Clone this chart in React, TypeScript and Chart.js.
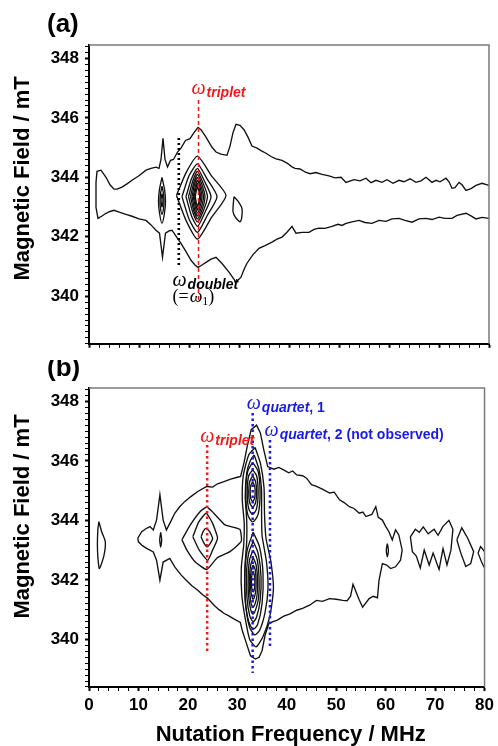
import React, { useEffect, useRef } from 'react';
import { Chart, registerables } from 'chart.js';

Chart.register(...registerables);

type P = [number, number];

// ---------- axes ----------
const X_MIN = 0;
const X_MAX = 80;
const Y_MIN = 338.4;
const Y_MAX = 348.45;
const X_STEP = 2;
const Y_STEP = 0.2;
const X_LABEL_EVERY = 10;
const Y_LABEL_EVERY = 2;
const X_TITLE = 'Nutation Frequency / MHz';
const Y_TITLE = 'Magnetic Field / mT';

// ---------- panel (a) contours (MHz, mT) ----------
const aOuter: P[] = [
  [80, 343.73], [78.6, 343.8], [77.4, 343.73], [76.4, 343.62], [75.4, 343.56], [74.6, 343.75], [74, 343.83], [73.2, 343.65],
  [72.6, 343.63], [72, 343.85], [71.4, 343.97], [70.2, 343.85], [69.4, 343.9], [68.6, 343.83], [67.4, 344.0], [66.4, 343.88],
  [65.4, 343.83], [64.2, 343.95], [63, 343.85], [62, 343.9], [60.8, 343.8], [59.6, 343.92], [58.6, 343.83], [57.4, 343.9],
  [56.4, 343.82], [55.4, 343.97], [54.2, 343.88], [53, 343.92], [51.4, 343.83], [50.4, 344.0], [49.2, 343.98], [48, 344.05],
  [46.6, 344.1], [45.4, 344.16], [44.2, 344.12], [43.3, 344.17], [42.2, 344.28], [41.2, 344.3], [40.6, 344.35], [39.6, 344.48],
  [38.6, 344.57], [37.4, 344.62], [36.4, 344.7], [35.4, 344.81], [34.4, 344.9], [33.6, 344.98], [32.6, 345.05], [31.8, 345.35],
  [31.0, 345.6], [30.2, 345.75], [29.4, 345.78], [28.8, 345.5], [28.2, 345.05], [27.6, 344.74], [26.4, 344.78], [25.4, 344.85],
  [24.6, 345.01], [23.4, 345.35], [22.4, 345.6], [21.8, 345.68], [21.0, 345.5], [20.2, 345.3], [19.3, 345.24], [18.4, 344.98],
  [17.7, 344.85], [16.9, 344.6], [16.3, 344.57], [15.7, 344.35], [15.2, 344.6], [14.8, 345.31], [14.4, 344.6], [14, 344.3],
  [13.4, 344.34], [12.4, 344.3], [11.4, 344.24], [10, 344.05], [8.6, 343.9], [7.6, 343.78], [6.6, 343.67], [5.6, 343.6],
  [5, 343.6], [4.2, 343.75], [3.4, 344.0], [2.4, 344.24], [1.6, 344.2], [1.4, 343.83], [1.4, 343.3], [1.4, 342.99],
  [1.8, 342.62], [2.6, 342.7], [3.4, 342.79], [4.2, 342.85], [5, 342.89], [6.2, 342.82], [7.4, 342.75], [8.6, 342.69],
  [10, 342.6], [11.4, 342.55], [12.4, 342.4], [13.4, 342.22], [14.1, 342.12], [14.7, 341.31], [15.3, 342.12], [16, 342.2],
  [16.6, 342.22], [17.5, 342.0], [18.4, 341.78], [19.4, 341.5], [20.4, 341.21], [21.2, 341.05], [21.8, 340.97], [22.6, 341.05],
  [23.4, 341.14], [24.4, 341.25], [25.4, 341.31], [26.6, 341.1], [28, 340.81], [28.8, 340.62], [29.4, 340.47], [30.4, 340.64],
  [31.0, 340.9], [31.6, 341.11], [32.8, 341.4], [34, 341.61], [35.2, 341.7], [36.6, 341.82], [37.6, 341.92], [38.6, 341.99],
  [39.6, 342.15], [40.6, 342.35], [41.4, 342.12], [42.6, 342.15], [44, 342.15], [45, 342.25], [46, 342.29], [47.2, 342.28],
  [48.6, 342.35], [49.8, 342.42], [50.6, 342.38], [51.4, 342.45], [52.6, 342.5], [54, 342.55], [55.2, 342.48], [56.6, 342.45],
  [58, 342.55], [59.4, 342.52], [60.6, 342.6], [62, 342.62], [63.2, 342.55], [64.6, 342.49], [66, 342.6], [67.4, 342.62],
  [68.6, 342.58], [70, 342.66], [71.2, 342.62], [72.6, 342.62], [73.6, 342.72], [75.4, 342.79], [76.4, 342.7], [77.4, 342.6],
  [78.6, 342.65], [80, 342.62],
];
const aLens1: P[] = [[14.6, 344.0], [15.1, 343.6], [15.3, 343.2], [15.1, 342.8], [14.6, 342.45], [14.1, 342.8], [13.9, 343.2], [14.1, 343.6]];
const aLens2: P[] = [[14.6, 343.7], [14.9, 343.45], [15.0, 343.2], [14.9, 342.95], [14.6, 342.75], [14.3, 342.95], [14.2, 343.2], [14.3, 343.45]];
const aLens3: P[] = [[14.6, 343.45], [14.8, 343.25], [14.6, 343.0], [14.4, 343.25]];
const aBlob: P[] = [[29.0, 343.35], [29.8, 343.2], [30.6, 342.95], [30.5, 342.6], [30.2, 342.5], [29.3, 342.65], [28.8, 342.85], [28.9, 343.2]];
const aDiamond1: P[] = [[17.5, 343.39], [19.4, 344.15], [21.7, 344.71], [24.5, 344.05], [27.4, 343.39], [24.5, 342.65], [21.7, 341.92], [19.4, 342.55]];
const aDiamond2: P[] = [[18.6, 343.35], [20.0, 344.05], [21.7, 344.45], [23.6, 343.95], [25.6, 343.35], [23.6, 342.7], [21.7, 342.15], [20.0, 342.6]];
const aDiamond3: P[] = [[19.4, 343.35], [20.5, 343.95], [21.7, 344.3], [23.0, 343.9], [24.4, 343.35], [23.0, 342.75], [21.7, 342.35], [20.5, 342.7]];
const aDiamond4: P[] = [[19.9, 343.35], [20.8, 343.9], [21.7, 344.2], [22.7, 343.85], [23.7, 343.35], [22.7, 342.8], [21.7, 342.5], [20.8, 342.8]];
const aDiamond5: P[] = [[20.3, 343.35], [21.0, 343.85], [21.7, 344.1], [22.5, 343.8], [23.2, 343.35], [22.5, 342.85], [21.7, 342.6], [21.0, 342.85]];
const aDiamond6: P[] = [[20.6, 343.35], [21.15, 343.8], [21.7, 344.0], [22.3, 343.75], [22.9, 343.35], [22.3, 342.9], [21.7, 342.7], [21.15, 342.9]];
const aDiamond7: P[] = [[20.85, 343.35], [21.3, 343.72], [21.7, 343.9], [22.15, 343.7], [22.6, 343.35], [22.15, 342.98], [21.7, 342.8], [21.3, 342.98]];
const aDiamond8: P[] = [[21.05, 343.35], [21.4, 343.65], [21.7, 343.8], [22.0, 343.63], [22.35, 343.35], [22.0, 343.05], [21.7, 342.9], [21.4, 343.05]];
const aDiamond9: P[] = [[21.25, 343.35], [21.5, 343.58], [21.7, 343.7], [21.9, 343.57], [22.15, 343.35], [21.9, 343.12], [21.7, 343.0], [21.5, 343.12]];

// ---------- panel (a) guide lines ----------
const aTripletLine: P[] = [[21.9, 346.6], [21.9, 339.88]];
const aDoubletLine: P[] = [[17.96, 345.32], [17.96, 340.95]];

// ---------- panel (b) contours ----------
const bOuter: P[] = [
  [9.86, 343.4], [10.66, 343.62], [11.5, 343.72], [12.34, 343.79], [13, 343.68], [13.66, 344.01], [14.34, 344.86], [15, 344.01],
  [15.66, 343.68], [16.5, 343.95], [17.34, 344.24], [18.3, 344.45], [19.34, 344.63], [20.6, 344.8], [22, 344.97], [23.8, 345.14],
  [25, 345.12], [26, 345.23], [27.3, 345.3], [28.66, 345.39], [30.0, 345.45], [30.66, 345.48], [31.34, 345.93], [32, 346.49],
  [32.8, 347.05], [33.9, 347.2], [34.66, 346.94], [35.34, 346.38], [36.14, 345.81], [37.4, 345.72], [38.4, 345.78], [39.34, 345.7],
  [40.4, 345.6], [41.2, 345.66], [42, 345.53], [43.2, 345.5], [44, 345.42], [45, 345.2], [46, 345.14], [47.2, 345.05],
  [48.66, 344.92], [49.6, 344.95], [50.66, 344.69], [51.6, 344.6], [52.66, 344.46], [53.6, 344.4], [54.66, 344.24], [55.4, 344.28],
  [56, 344.13], [57.2, 344.2], [58, 344.46], [58.5, 344.1], [59.34, 344.01], [60.0, 343.8], [60.66, 343.62], [61.34, 343.34],
  [62, 343.68], [62.66, 343.51], [63.34, 343.0], [63, 342.66], [62, 342.44], [61, 342.38], [60.2, 342.5], [59.34, 342.55],
  [58.66, 341.99], [58.34, 341.4], [57.5, 341.45], [56.66, 341.37], [55.34, 341.08], [54.6, 341.35], [54, 341.6], [53.4, 341.85],
  [52.9, 341.45], [52.2, 341.3], [51.34, 341.31], [50, 341.35], [48.66, 341.37], [47.2, 341.28], [46, 341.31], [44.6, 341.15],
  [43.2, 341.04], [42, 340.98], [40.66, 340.86], [39.4, 340.78], [38, 340.64], [37.2, 340.6], [36.34, 340.52], [35.6, 340.13],
  [35, 339.62], [34.4, 339.4], [33.66, 339.34], [32.66, 339.45], [31.66, 339.96], [31, 340.3], [30.6, 340.57], [29.2, 340.7],
  [28.2, 340.8], [27.34, 340.87], [26.3, 341.0], [25.34, 341.14], [24, 341.38], [23, 341.5], [22, 341.65], [20.8, 341.8],
  [19.66, 341.99], [18.66, 342.16], [17.34, 342.44], [16.34, 342.72], [15, 342.6], [14.34, 341.99], [13.66, 342.66], [13, 342.94],
  [11.66, 343.06], [10.8, 343.15], [10, 343.28],
];
const bLeftLens: P[] = [[2.0, 343.96], [2.6, 343.6], [3.3, 343.28], [3.0, 342.8], [2.1, 342.38], [1.8, 342.75], [1.7, 343.2], [1.8, 343.7]];
const bSmallLens: P[] = [[14.5, 343.6], [14.7, 343.35], [14.5, 343.1], [14.3, 343.35]];
const bDot: P[] = [[60.34, 343.22], [60.55, 343.0], [60.34, 342.78], [60.13, 343.0]];
const bTriplet0: P[] = [[18.8, 343.35], [20.5, 343.85], [22.5, 344.3], [23.8, 344.45], [25.2, 344.25], [27.5, 343.85], [30.5, 343.7], [30.8, 343.3], [28.5, 342.95], [26, 342.75], [23.8, 342.35], [21.5, 342.6], [19.8, 343.0]];
const bTriplet1: P[] = [[21, 343.45], [22.2, 343.95], [23.7, 344.24], [25, 343.9], [26, 343.4], [25, 343.0], [24, 342.66], [22.3, 343.0]];
const bTriplet2: P[] = [[22.66, 343.45], [23.1, 343.63], [23.66, 343.73], [24.4, 343.62], [25, 343.4], [24.5, 343.22], [23.86, 343.11], [23.2, 343.25]];
const bColumn1: P[] = [[33.6, 346.45], [34.7, 345.9], [35.4, 345.1], [35.5, 344.2], [35.8, 343.4], [36.8, 342.6], [37.3, 341.7], [36.6, 340.8], [35.2, 340.1], [33.8, 339.75], [32.5, 340.0], [31.6, 340.7], [30.9, 341.5], [30.8, 342.4], [31.3, 343.2], [31.4, 343.9], [31.0, 344.7], [31.2, 345.5], [32.3, 346.2]];
const bColumn2: P[] = [[33.4, 346.2], [34.4, 345.7], [34.9, 345.0], [34.9, 344.3], [35.0, 343.5], [35.9, 342.6], [36.2, 341.7], [35.6, 340.9], [34.5, 340.3], [33.5, 340.15], [32.5, 340.4], [31.8, 341.0], [31.5, 341.8], [31.6, 342.6], [31.9, 343.3], [31.9, 344.0], [31.6, 344.8], [31.9, 345.6], [32.6, 346.0]];
const bUpper1: P[] = [[33.1, 345.95], [34.2, 345.65], [34.6, 344.95], [34.2, 344.2], [33.1, 343.95], [32.1, 344.2], [31.7, 344.95], [32.1, 345.65]];
const bUpper2: P[] = [[33.1, 345.7], [33.9, 345.5], [34.2, 344.95], [33.9, 344.4], [33.1, 344.2], [32.3, 344.4], [32.0, 344.95], [32.3, 345.5]];
const bUpper3: P[] = [[33.1, 345.5], [33.7, 345.3], [33.9, 344.95], [33.7, 344.6], [33.1, 344.45], [32.5, 344.6], [32.3, 344.95], [32.5, 345.3]];
const bUpper4: P[] = [[33.1, 345.3], [33.5, 345.15], [33.6, 344.95], [33.5, 344.75], [33.1, 344.65], [32.7, 344.75], [32.6, 344.95], [32.7, 345.15]];
const bLower1: P[] = [[33.2, 343.6], [34.5, 343.1], [35.2, 342.2], [35.0, 341.2], [34.1, 340.5], [33.2, 340.35], [32.3, 340.6], [31.6, 341.3], [31.5, 342.2], [32.0, 343.0]];
const bLower2: P[] = [[33.2, 343.3], [34.2, 342.9], [34.8, 342.1], [34.6, 341.3], [33.9, 340.75], [33.2, 340.6], [32.5, 340.8], [31.95, 341.4], [31.85, 342.2], [32.3, 342.9]];
const bLower3: P[] = [[33.2, 343.0], [34.0, 342.7], [34.4, 342.05], [34.3, 341.4], [33.7, 341.0], [33.2, 340.85], [32.7, 341.0], [32.25, 341.5], [32.2, 342.15], [32.5, 342.7]];
const bLower4: P[] = [[33.2, 342.75], [33.8, 342.5], [34.1, 342.0], [34.0, 341.5], [33.6, 341.2], [33.2, 341.1], [32.8, 341.2], [32.5, 341.6], [32.45, 342.05], [32.7, 342.5]];
const bLower5: P[] = [[33.2, 342.5], [33.6, 342.35], [33.8, 341.95], [33.7, 341.6], [33.2, 341.35], [32.8, 341.55], [32.65, 341.95], [32.8, 342.3]];
const bLower6: P[] = [[33.2, 342.3], [33.45, 342.15], [33.55, 341.95], [33.45, 341.7], [33.2, 341.6], [32.95, 341.7], [32.85, 341.95], [32.95, 342.15]];
const bRight1: P[] = [[65, 343.45], [66, 343.7], [66.8, 343.6], [67.6, 343.78], [68.6, 343.55], [69.8, 343.7], [70.6, 343.5], [71.6, 343.8], [72.8, 344.0], [73.6, 343.7], [73.2, 343.0], [72.4, 342.5], [71.6, 343.05], [70.8, 342.35], [69.6, 342.9], [68.8, 342.5], [67.8, 343.0], [67, 342.4], [66.2, 342.8], [65.4, 342.95]];
const bRight2: P[] = [[74.4, 343.35], [75.4, 343.75], [76.6, 343.4], [77.8, 342.95], [77.2, 342.55], [76.2, 342.45], [75.2, 342.9]];
const bRight3: P[] = [[80, 342.95], [79.2, 343.12], [78.7, 342.9], [79.4, 342.6], [80, 342.4]];

// ---------- panel (b) guide lines ----------
const bTripletLine: P[] = [[23.9, 346.53], [23.9, 339.54]];
const bQuartet1Line: P[] = [[33.1, 347.61], [33.1, 338.87]];
const bQuartet2Line: P[] = [[36.6, 346.7], [36.6, 339.74]];

// ---------- label anchors (data units) ----------
const aTripletLabel: P = [20.5, 346.79];
const aDoubletLabel: P = [16.7, 340.34];
const aDoubletEqLabel: P = [16.7, 339.8];
const bTripletLabel: P = [22.5, 346.63];
const bQuartet1Label: P = [31.9, 347.74];
const bQuartet2Label: P = [35.5, 346.84];

const RED = '#f01818';
const BLUE = '#1a1ae8';
const SANS = "'Liberation Sans', Arial, Helvetica, sans-serif";
const SERIF = "'Liberation Serif', 'Times New Roman', serif";

const toXY = (pts: P[]) => pts.map(([x, y]) => ({ x, y }));

const contour = (pts: P[], closed: boolean, smooth = 0) => ({
  data: toXY(closed ? [...pts, pts[0]] : pts),
  borderColor: '#111',
  borderWidth: 1.35,
  pointRadius: 0,
  showLine: true,
  fill: false,
  tension: smooth,
});

const guide = (pts: P[], color: string, dash: number[], width: number) => ({
  data: toXY(pts),
  borderColor: color,
  borderWidth: width,
  borderDash: dash,
  pointRadius: 0,
  showLine: true,
  fill: false,
});

type Part = { text: string; font: string; color: string; dy?: number; gap?: number };

function drawRich(ctx: CanvasRenderingContext2D, x: number, y: number, parts: Part[]) {
  let cx = x;
  ctx.textAlign = 'left';
  ctx.textBaseline = 'alphabetic';
  for (const p of parts) {
    ctx.font = p.font;
    ctx.fillStyle = p.color;
    ctx.fillText(p.text, cx, y + (p.dy || 0));
    cx += ctx.measureText(p.text).width + (p.gap || 0);
  }
}

const isMajor = (v: number, every: number) => {
  const r = Math.round(v);
  return Math.abs(v - r) < 1e-6 && r % every === 0;
};

function makeOptions(opts: { topPad: number; xHeight: number; showXLabels: boolean }) {
  const tickFont = { family: SANS, size: 17, weight: 'bold' as const };
  return {
    responsive: false,
    animation: false as const,
    devicePixelRatio: 1,
    layout: { padding: { top: opts.topPad, left: 0, right: 9, bottom: 0 }, autoPadding: false },
    plugins: { legend: { display: false }, tooltip: { enabled: false } },
    events: [] as any[],
    scales: {
      x: {
        type: 'linear' as const,
        min: X_MIN,
        max: X_MAX,
        afterFit: (s: any) => {
          s.height = opts.xHeight;
        },
        border: { color: '#000', width: 2 },
        grid: {
          drawOnChartArea: false,
          drawTicks: true,
          tickLength: 4,
          tickColor: '#000',
          tickWidth: (c: any) => (c.tick && isMajor(c.tick.value, X_LABEL_EVERY) ? 2 : 1),
        },
        ticks: {
          stepSize: X_STEP,
          autoSkip: false,
          maxRotation: 0,
          includeBounds: false,
          padding: 4,
          color: '#000',
          font: tickFont,
          callback: (v: any) => (opts.showXLabels && isMajor(Number(v), X_LABEL_EVERY) ? String(Math.round(Number(v))) : ''),
        },
      },
      y: {
        type: 'linear' as const,
        min: Y_MIN,
        max: Y_MAX,
        afterFit: (s: any) => {
          s.width = 89;
        },
        border: { color: '#000', width: 2 },
        grid: {
          drawOnChartArea: false,
          drawTicks: true,
          tickLength: 4,
          tickColor: '#000',
          tickWidth: (c: any) => (c.tick && isMajor(c.tick.value, Y_LABEL_EVERY) ? 2 : 1),
        },
        ticks: {
          stepSize: Y_STEP,
          autoSkip: false,
          includeBounds: false,
          padding: 6,
          color: '#000',
          font: tickFont,
          callback: (v: any) => (isMajor(Number(v), Y_LABEL_EVERY) ? String(Math.round(Number(v))) : ''),
        },
      },
    },
  };
}

function framePlugin(panelLabel: string, labelBaseline: number, yTitleShift: number, showXTitle: boolean, xTitleBaseline: number, extra: (chart: any) => void) {
  return {
    id: 'frame' + panelLabel,
    afterDraw(chart: any) {
      const ctx = chart.ctx as CanvasRenderingContext2D;
      const a = chart.chartArea;
      ctx.save();
      ctx.strokeStyle = '#7a7a7a';
      ctx.lineWidth = 1.5;
      ctx.beginPath();
      ctx.moveTo(a.left, a.top);
      ctx.lineTo(a.right, a.top);
      ctx.lineTo(a.right, a.bottom);
      ctx.stroke();
      ctx.fillStyle = '#000';
      ctx.font = `bold 26px ${SANS}`;
      ctx.textAlign = 'left';
      ctx.textBaseline = 'alphabetic';
      ctx.fillText(panelLabel, 47, labelBaseline);
      ctx.save();
      ctx.translate(29, (a.top + a.bottom) / 2 + yTitleShift);
      ctx.rotate(-Math.PI / 2);
      ctx.font = `bold 22px ${SANS}`;
      ctx.textAlign = 'center';
      ctx.fillText(Y_TITLE, 0, 0);
      ctx.restore();
      if (showXTitle) {
        ctx.font = `bold 22px ${SANS}`;
        ctx.textAlign = 'center';
        ctx.fillText(X_TITLE, (a.left + a.right) / 2 + 4, xTitleBaseline);
      }
      extra(chart);
      ctx.restore();
    },
  };
}

const px = (chart: any, p: P): [number, number] => [chart.scales.x.getPixelForValue(p[0]), chart.scales.y.getPixelForValue(p[1])];

const omega = (color: string, size = 20): Part => ({ text: 'ω', font: `italic ${size}px ${SERIF}`, color, gap: 1 });
const sub = (text: string, color: string, italic = true): Part => ({ text, font: `${italic ? 'italic ' : ''}bold 14px ${SANS}`, color, dy: 3 });

export default function App() {
  const refA = useRef<HTMLCanvasElement>(null);
  const refB = useRef<HTMLCanvasElement>(null);

  useEffect(() => {
    const chartA = new Chart(refA.current as HTMLCanvasElement, {
      type: 'scatter',
      data: {
        datasets: [
          guide(aTripletLine, RED, [4, 3], 1.5),
          guide(aDoubletLine, '#000', [2, 3], 2.6),
          contour(aOuter, false),
          contour(aLens1, true, 0.3),
          contour(aLens2, true, 0.3),
          contour(aLens3, true, 0.3),
          contour(aBlob, true, 0.2),
          contour(aDiamond1, true, 0.2),
          contour(aDiamond2, true, 0.2),
          contour(aDiamond3, true, 0.2),
          contour(aDiamond4, true, 0.2),
          contour(aDiamond5, true, 0.2),
          contour(aDiamond6, true, 0.2),
          contour(aDiamond7, true, 0.2),
          contour(aDiamond8, true, 0.2),
          contour(aDiamond9, true, 0.2),
        ] as any,
      },
      options: makeOptions({ topPad: 45, xHeight: 16, showXLabels: false }) as any,
      plugins: [
        framePlugin('(a)', 32, -16, false, 0, (chart) => {
          const ctx = chart.ctx as CanvasRenderingContext2D;
          let [x, y] = px(chart, aTripletLabel);
          drawRich(ctx, x, y, [omega(RED), sub('triplet', RED)]);
          [x, y] = px(chart, aDoubletLabel);
          drawRich(ctx, x, y, [omega('#000'), sub('doublet', '#000')]);
          [x, y] = px(chart, aDoubletEqLabel);
          drawRich(ctx, x, y, [
            { text: '(=', font: `18px ${SERIF}`, color: '#000', gap: 1 },
            { text: 'ω', font: `italic 18px ${SERIF}`, color: '#000' },
            { text: '1', font: `12px ${SERIF}`, color: '#000', dy: 3 },
            { text: ')', font: `18px ${SERIF}`, color: '#000' },
          ]);
        }),
      ],
    });

    const chartB = new Chart(refB.current as HTMLCanvasElement, {
      type: 'scatter',
      data: {
        datasets: [
          guide(bTripletLine, RED, [2.5, 3], 2.5),
          guide(bQuartet1Line, BLUE, [2.5, 3], 2.5),
          guide(bQuartet2Line, BLUE, [2.5, 3], 2.5),
          contour(bOuter, true),
          contour(bLeftLens, true, 0.2),
          contour(bSmallLens, true, 0.2),
          contour(bDot, true, 0.3),
          contour(bTriplet0, true, 0.15),
          contour(bTriplet1, true, 0.15),
          contour(bTriplet2, true, 0.15),
          contour(bColumn1, true, 0.2),
          contour(bColumn2, true, 0.2),
          contour(bUpper1, true, 0.3),
          contour(bUpper2, true, 0.3),
          contour(bUpper3, true, 0.3),
          contour(bUpper4, true, 0.3),
          contour(bLower1, true, 0.3),
          contour(bLower2, true, 0.3),
          contour(bLower3, true, 0.3),
          contour(bLower4, true, 0.3),
          contour(bLower5, true, 0.3),
          contour(bLower6, true, 0.3),
          contour(bRight1, true),
          contour(bRight2, true),
          contour(bRight3, false),
        ] as any,
      },
      options: makeOptions({ topPad: 28, xHeight: 59, showXLabels: true }) as any,
      plugins: [
        framePlugin('(b)', 16, -21, true, 381, (chart) => {
          const ctx = chart.ctx as CanvasRenderingContext2D;
          let [x, y] = px(chart, bTripletLabel);
          drawRich(ctx, x, y, [omega(RED), sub('triplet', RED)]);
          [x, y] = px(chart, bQuartet1Label);
          drawRich(ctx, x, y, [omega(BLUE), sub('quartet', BLUE), sub(', 1', BLUE, false)]);
          [x, y] = px(chart, bQuartet2Label);
          drawRich(ctx, x, y, [omega(BLUE), sub('quartet', BLUE), sub(', 2 (not observed)', BLUE, false)]);
        }),
      ],
    });

    return () => {
      chartA.destroy();
      chartB.destroy();
    };
  }, []);

  return (
    <div style={{ position: 'absolute', left: 0, top: 0, width: 498, height: 746, background: '#fff' }}>
      <canvas ref={refA} width={498} height={360} style={{ position: 'absolute', left: 0, top: 0, display: 'block' }} />
      <canvas ref={refB} width={498} height={386} style={{ position: 'absolute', left: 0, top: 360, display: 'block' }} />
    </div>
  );
}
